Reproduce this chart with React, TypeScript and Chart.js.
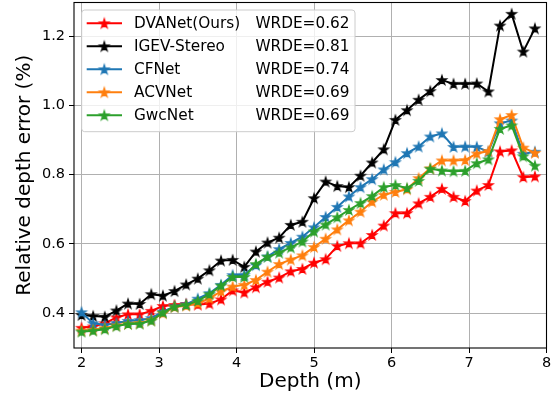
import React, { useEffect, useRef } from 'react';
import { Chart, registerables } from 'chart.js';

Chart.register(...registerables);

// Depth categories (m)
const depths = [
  2.0, 2.15, 2.3, 2.45, 2.6, 2.75, 2.9, 3.05, 3.2, 3.35,
  3.5, 3.65, 3.8, 3.95, 4.1, 4.25, 4.4, 4.55, 4.7, 4.85,
  5.0, 5.15, 5.3, 5.45, 5.6, 5.75, 5.9, 6.05, 6.2, 6.35,
  6.5, 6.65, 6.8, 6.95, 7.1, 7.25, 7.4, 7.55, 7.7, 7.85,
];

const dvanet = [
  0.358, 0.362, 0.371, 0.388, 0.397, 0.397, 0.407, 0.421, 0.424, 0.427,
  0.425, 0.428, 0.440, 0.466, 0.460, 0.475, 0.491, 0.503, 0.521, 0.528,
  0.546, 0.556, 0.594, 0.602, 0.602, 0.626, 0.653, 0.689, 0.689, 0.717,
  0.736, 0.759, 0.736, 0.724, 0.754, 0.770, 0.867, 0.870, 0.793, 0.795,
];

const igev = [
  0.395, 0.392, 0.390, 0.408, 0.428, 0.427, 0.455, 0.451, 0.464, 0.483,
  0.500, 0.524, 0.552, 0.554, 0.534, 0.578, 0.604, 0.618, 0.655, 0.664,
  0.732, 0.780, 0.767, 0.764, 0.797, 0.835, 0.873, 0.958, 0.986, 1.016,
  1.041, 1.073, 1.062, 1.062, 1.063, 1.040, 1.230, 1.264, 1.155, 1.222,
];

const cfnet = [
  0.403, 0.371, 0.366, 0.372, 0.378, 0.380, 0.386, 0.405, 0.420, 0.426,
  0.442, 0.458, 0.482, 0.510, 0.511, 0.539, 0.564, 0.585, 0.603, 0.621,
  0.648, 0.678, 0.707, 0.737, 0.764, 0.787, 0.815, 0.836, 0.862, 0.881,
  0.910, 0.919, 0.880, 0.881, 0.880, 0.866, 0.948, 0.956, 0.860, 0.866,
];

const acvnet = [
  0.350, 0.352, 0.357, 0.365, 0.370, 0.372, 0.380, 0.400, 0.418, 0.422,
  0.429, 0.443, 0.463, 0.477, 0.482, 0.496, 0.520, 0.542, 0.555, 0.567,
  0.591, 0.615, 0.642, 0.668, 0.693, 0.722, 0.742, 0.750, 0.758, 0.790,
  0.818, 0.841, 0.841, 0.842, 0.861, 0.868, 0.960, 0.972, 0.878, 0.863,
];

const gwcnet = [
  0.347, 0.350, 0.354, 0.363, 0.369, 0.370, 0.379, 0.402, 0.419, 0.424,
  0.436, 0.455, 0.480, 0.505, 0.505, 0.542, 0.563, 0.575, 0.590, 0.607,
  0.636, 0.656, 0.677, 0.698, 0.718, 0.738, 0.764, 0.770, 0.761, 0.782,
  0.817, 0.812, 0.810, 0.811, 0.833, 0.844, 0.932, 0.942, 0.853, 0.826,
];

const seriesNames = ['DVANet(Ours)', 'IGEV-Stereo', 'CFNet', 'ACVNet', 'GwcNet'];
const wrdeLabels = ['WRDE=0.62', 'WRDE=0.81', 'WRDE=0.74', 'WRDE=0.69', 'WRDE=0.69'];
const seriesColors = ['#ff0000', '#000000', '#1f77b4', '#ff7f0e', '#2ca02c'];
const seriesValues = [dvanet, igev, cfnet, acvnet, gwcnet];

const xTicks = [2, 3, 4, 5, 6, 7, 8];
const yTicks = [0.4, 0.6, 0.8, 1.0, 1.2];

const FONT = "'DejaVu Sans', sans-serif";

function makeStar(color: string, r: number): HTMLCanvasElement {
  const size = 14;
  const c = document.createElement('canvas');
  c.width = size;
  c.height = size;
  const ctx = c.getContext('2d') as CanvasRenderingContext2D;
  const cx = size / 2;
  const cy = size / 2 + 0.4;
  ctx.beginPath();
  for (let i = 0; i < 10; i++) {
    const rad = i % 2 === 0 ? r : r * 0.382;
    const a = -Math.PI / 2 + (i * Math.PI) / 5;
    const px = cx + rad * Math.cos(a);
    const py = cy + rad * Math.sin(a);
    if (i === 0) ctx.moveTo(px, py);
    else ctx.lineTo(px, py);
  }
  ctx.closePath();
  ctx.fillStyle = color;
  ctx.fill();
  ctx.lineJoin = 'miter';
  ctx.strokeStyle = color;
  ctx.lineWidth = 1.2;
  ctx.stroke();
  return c;
}

export default function App() {
  const ref = useRef<HTMLCanvasElement | null>(null);

  useEffect(() => {
    if (!ref.current) return;
    const stars = seriesColors.map((c) => makeStar(c, 4.9));

    const framePlugin = {
      id: 'frameAndLegend',
      afterDatasetsDraw(chart: any) {
        const { ctx, chartArea } = chart;
        ctx.save();
        // frame (spines)
        ctx.strokeStyle = '#000';
        ctx.lineWidth = 1.1;
        ctx.strokeRect(chartArea.left, chartArea.top, chartArea.right - chartArea.left, chartArea.bottom - chartArea.top);

        // legend
        const x0 = 81.7, y0 = 10, w = 273.3, h = 121.7, rr = 3;
        ctx.beginPath();
        ctx.moveTo(x0 + rr, y0);
        ctx.lineTo(x0 + w - rr, y0);
        ctx.quadraticCurveTo(x0 + w, y0, x0 + w, y0 + rr);
        ctx.lineTo(x0 + w, y0 + h - rr);
        ctx.quadraticCurveTo(x0 + w, y0 + h, x0 + w - rr, y0 + h);
        ctx.lineTo(x0 + rr, y0 + h);
        ctx.quadraticCurveTo(x0, y0 + h, x0, y0 + h - rr);
        ctx.lineTo(x0, y0 + rr);
        ctx.quadraticCurveTo(x0, y0, x0 + rr, y0);
        ctx.closePath();
        ctx.fillStyle = 'rgba(255,255,255,0.8)';
        ctx.fill();
        ctx.strokeStyle = '#cccccc';
        ctx.lineWidth = 1;
        ctx.stroke();

        ctx.font = `15.3px ${FONT}`;
        ctx.textBaseline = 'middle';
        ctx.fillStyle = '#000';
        seriesNames.forEach((name, i) => {
          const cy = 23.3 + i * 23;
          ctx.strokeStyle = seriesColors[i];
          ctx.lineWidth = 2;
          ctx.beginPath();
          ctx.moveTo(86.7, cy);
          ctx.lineTo(122, cy);
          ctx.stroke();
          const st = stars[i];
          ctx.drawImage(st, 104.3 - st.width / 2, cy - st.height / 2);
          ctx.fillStyle = '#000';
          ctx.textAlign = 'left';
          ctx.fillText(name, 134, cy + 0.5);
          ctx.textAlign = 'right';
          ctx.fillText(wrdeLabels[i], 349.5, cy + 0.5);
        });
        ctx.restore();
      },
    };

    const chart = new Chart(ref.current, {
      type: 'line',
      data: {
        datasets: seriesValues.map((vals, i) => ({
          label: seriesNames[i],
          data: depths.map((x, j) => ({ x, y: vals[j] })),
          borderColor: seriesColors[i],
          backgroundColor: seriesColors[i],
          borderWidth: 2,
          pointStyle: stars[i],
          pointRadius: 5,
          pointHoverRadius: 5,
          order: -i,
          tension: 0,
          fill: false,
        })),
      },
      options: {
        responsive: false,
        animation: false,
        events: [],
        layout: { autoPadding: false, padding: { left: 0, right: 6.5, top: 2.5, bottom: 0 } },
        plugins: { legend: { display: false }, tooltip: { enabled: false } },
        scales: {
          x: {
            type: 'linear',
            min: 1.903,
            max: 8,
            afterFit: (s: any) => {
              s.height = 50;
              s.paddingLeft = 0;
              s.paddingRight = 0;
            },
            afterBuildTicks: (s: any) => {
              s.ticks = xTicks.map((v) => ({ value: v }));
            },
            ticks: {
              font: { family: FONT, size: 14.5 },
              color: '#000',
              padding: 2,
              maxRotation: 0,
              autoSkip: false,
              callback: (v: any) => String(v),
            },
            grid: { color: '#b0b0b0', lineWidth: 1, tickColor: '#000', tickLength: 5, drawTicks: true },
            border: { display: false },
            title: {
              display: true,
              text: 'Depth (m)',
              font: { family: FONT, size: 20 },
              color: '#000',
              padding: { top: 0, bottom: 4 },
            },
          },
          y: {
            type: 'linear',
            min: 0.2999,
            max: 1.2967,
            afterFit: (s: any) => {
              s.width = 74;
              s.paddingTop = 0;
              s.paddingBottom = 0;
            },
            afterBuildTicks: (s: any) => {
              s.ticks = yTicks.map((v) => ({ value: v }));
            },
            ticks: {
              font: { family: FONT, size: 14.5 },
              color: '#000',
              padding: 4,
              autoSkip: false,
              callback: (v: any) => Number(v).toFixed(1),
            },
            grid: { color: '#b0b0b0', lineWidth: 1, tickColor: '#000', tickLength: 5, drawTicks: true },
            border: { display: false },
            title: {
              display: true,
              text: 'Relative depth error (%)',
              font: { family: FONT, size: 20 },
              color: '#000',
              padding: { top: 13, bottom: 0 },
            },
          },
        },
      },
      plugins: [framePlugin],
    } as any);

    return () => chart.destroy();
  }, []);

  return (
    <div style={{ position: 'fixed', left: 0, top: 0, width: 553, height: 398, background: '#fff' }}>
      <canvas ref={ref} width={553} height={398} style={{ display: 'block', width: 553, height: 398 }} />
    </div>
  );
}
